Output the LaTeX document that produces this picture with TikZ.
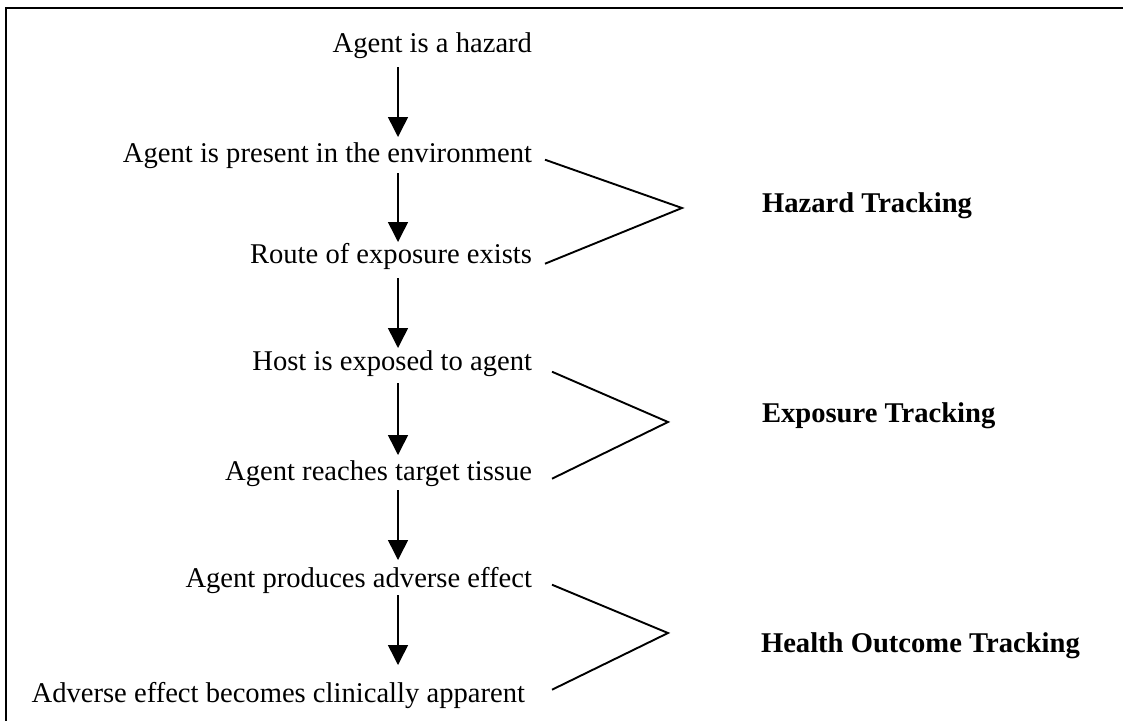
\documentclass[tikz,border=0pt]{standalone}
\usepackage{fontspec}
\setmainfont{Liberation Serif}
\usetikzlibrary{arrows.meta}
\begin{document}
\begin{tikzpicture}[x=1pt,y=-1pt,
  lbl/.style={inner sep=0pt, outer sep=0pt, anchor=base east, text height=20pt, text depth=6pt,
    font=\fontsize{28.6}{34}\selectfont},
  grp/.style={inner sep=0pt, outer sep=0pt, anchor=base west,
    font=\fontsize{28.6}{34}\selectfont\bfseries},
  arr/.style={line width=1.5pt, -{Triangle[length=20pt,width=20pt]}},
  brk/.style={line width=1.9pt, line join=miter},
  frame/.style={line width=1.6pt}]
\useasboundingbox (0,0) rectangle (1123,721);
\draw[frame] (1123,8) -- (6,8) -- (6,721);
\coordinate (ax) at (398,0);
\node[lbl] (a) at (532,52) {Agent is a hazard};
\node[lbl] (b) at (532,162) {Agent is present in the environment};
\node[lbl] (c) at (532,263) {Route of exposure exists};
\node[lbl] (d) at (532,370) {Host is exposed to agent};
\node[lbl] (e) at (532,480) {Agent reaches target tissue};
\node[lbl] (f) at (532,587) {Agent produces adverse effect};
\node[lbl] (g) at (525,702) {Adverse effect becomes clinically apparent};
\draw[arr, shorten <=9pt, shorten >=5pt] (a.south -| ax) -- (b.north -| ax);
\draw[arr, shorten <=5pt, shorten >=1pt] (b.south -| ax) -- (c.north -| ax);
\draw[arr, shorten <=9pt, shorten >=2pt] (c.south -| ax) -- (d.north -| ax);
\draw[arr, shorten <=7pt, shorten >=5pt] (d.south -| ax) -- (e.north -| ax);
\draw[arr, shorten <=4pt, shorten >=7pt] (e.south -| ax) -- (f.north -| ax);
\draw[arr, shorten <=2pt, shorten >=17pt] (f.south -| ax) -- (g.north -| ax);
\coordinate (v1) at (682,208);
\coordinate (v2) at (668,422);
\coordinate (v3) at (668,633);
\draw[brk] ([xshift=13pt]b.mid east) -- (v1) -- ([xshift=13pt,yshift=-3pt]c.mid east);
\draw[brk] ([xshift=20pt,yshift=-4pt]d.mid east) -- (v2) -- ([xshift=20pt,yshift=-1pt]e.mid east);
\draw[brk] ([xshift=20pt]f.mid east) -- (v3) -- ([xshift=27pt,yshift=10pt]g.mid east);
\node[grp] (h1) at (762,212) {Hazard Tracking};
\node[grp] (h2) at (762,422) {Exposure Tracking};
\node[grp] (h3) at (761,652) {Health Outcome Tracking};
\end{tikzpicture}
\end{document}
